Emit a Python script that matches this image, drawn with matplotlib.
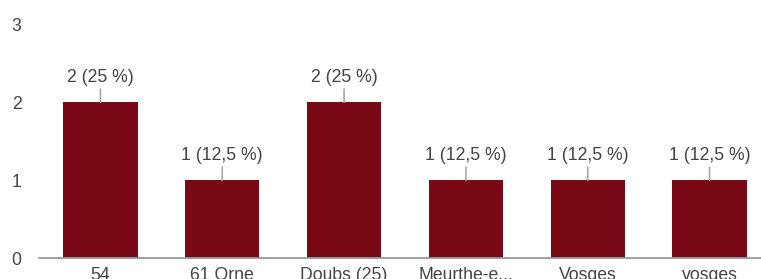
import matplotlib.pyplot as plt

plt.rcParams['font.family'] = ['Liberation Sans', 'DejaVu Sans']

categories = ['54', '61 Orne', 'Doubs (25)', 'Meurthe-e...', 'Vosges', 'vosges']
counts = [2, 1, 2, 1, 1, 1]
labels = ['2 (25 %)', '1 (12,5 %)', '2 (25 %)', '1 (12,5 %)', '1 (12,5 %)', '1 (12,5 %)']

bar_color = '#7a0916'
text_color = '#444444'

fig = plt.figure(figsize=(7.61, 2.79), dpi=100)
ax = fig.add_axes([0.0519, 0.0742, 0.9606, 0.839])

x = range(len(categories))
ax.bar(x, counts, width=0.61, color=bar_color, zorder=2)

# étiquettes au-dessus des barres avec petit trait gris
for xi, c, lab in zip(x, counts, labels):
    ax.annotate(lab, xy=(xi, c), xytext=(0, 11.5), textcoords='offset points',
                ha='center', va='bottom', fontsize=12.7, color=text_color,
                arrowprops=dict(arrowstyle='-', color='#aaaaaa', lw=1.2,
                                shrinkA=0, shrinkB=0))

ax.set_xlim(-0.5, len(categories) - 0.5)
ax.set_ylim(0, 3)
ax.set_yticks([0, 1, 2, 3])
ax.set_xticks(list(x))
ax.set_xticklabels(categories)

for s in ['top', 'right', 'left']:
    ax.spines[s].set_visible(False)
ax.spines['bottom'].set_color('#999999')
ax.spines['bottom'].set_linewidth(1.3)
ax.spines['bottom'].set_zorder(3)

ax.tick_params(axis='both', length=0, labelsize=12.7, colors=text_color)
ax.tick_params(axis='x', pad=6)
for t in ax.get_yticklabels():
    t.set_horizontalalignment('left')
ax.yaxis.set_tick_params(pad=20)

fig.savefig('out.png', dpi=100)
